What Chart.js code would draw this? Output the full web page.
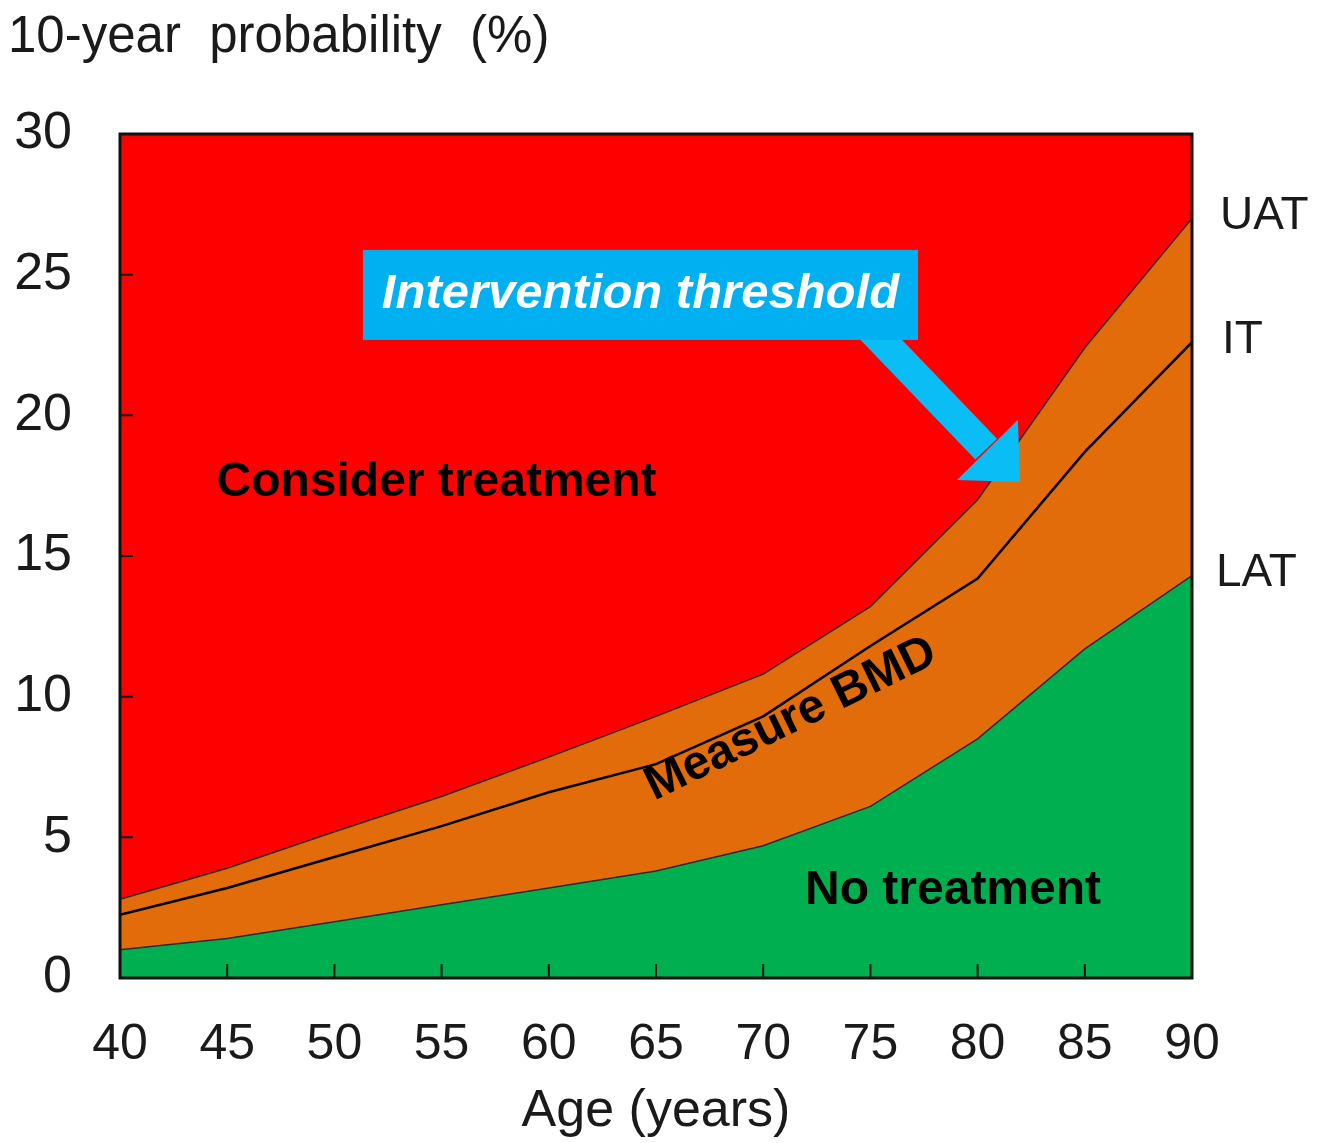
<!DOCTYPE html>
<html>
<head>
<meta charset="utf-8">
<script src="https://cdn.jsdelivr.net/npm/chart.js@4/dist/chart.umd.min.js"></script>
<style>
  html, body { margin: 0; padding: 0; background: #fff; }
  #wrap { width: 1326px; height: 1143px; }
</style>
</head>
<body>
<div id="wrap"><canvas id="thresholdChart" width="1326" height="1143"></canvas></div>
<script>
// Dane (wiek w latach, prawdopodobieństwo w %)
var ages = [40, 45, 50, 55, 60, 65, 70, 75, 80, 85, 90];
var lowerThreshold = [1.0, 1.4, 2.0, 2.6, 3.2, 3.8, 4.7, 6.1, 8.5, 11.7, 14.3];        // LAT
var interventionThreshold = [2.25, 3.2, 4.3, 5.4, 6.6, 7.6, 9.3, 11.8, 14.2, 18.7, 22.6]; // IT
var upperThreshold = [2.8, 3.9, 5.2, 6.45, 7.85, 9.3, 10.8, 13.2, 17.0, 22.4, 27.0];   // UAT
var xTicks = [40, 45, 50, 55, 60, 65, 70, 75, 80, 85, 90];
var yTicks = [0, 5, 10, 15, 20, 25, 30];
var lineNames = ['LAT', 'IT', 'UAT'];

var FONT = '"Liberation Sans", Arial, sans-serif';
var RED = '#ff0000';
var ORANGE = '#e36c0a';
var GREEN = '#00b050';

function toPoints(values) {
  return ages.map(function (a, i) { return { x: a, y: values[i] }; });
}

// Pozycje opisów w jednostkach danych (wiek, %)
var notes = {
  consider: { x: 44.5, y: 17.6, text: 'Consider treatment' },
  none: { x: 71.95, y: 3.1, text: 'No treatment' },
  measure: { x: 71.3, y: 9.2, text: 'Measure BMD', angle: -26 },
  box: { x1: 51.33, x2: 77.22, y1: 25.88, y2: 22.68, text: 'Intervention threshold' },
  arrow: { from: [74.6, 23.4], to: [80.4, 18.8], tip: [81.98, 17.63], barbA: [79.04, 17.70], barbB: [81.88, 19.84] }
};

var decorPlugin = {
  id: 'decor',
  beforeDraw: function (chart) {
    var ctx = chart.ctx, a = chart.chartArea;
    ctx.save();
    ctx.fillStyle = '#fff';
    ctx.fillRect(0, 0, chart.width, chart.height);
    ctx.fillStyle = RED;
    ctx.fillRect(a.left, a.top, a.right - a.left, a.bottom - a.top);
    ctx.restore();
  },
  afterDraw: function (chart) {
    var ctx = chart.ctx, a = chart.chartArea;
    var xs = chart.scales.x, ys = chart.scales.y;
    function px(x) { return xs.getPixelForValue(x); }
    function py(y) { return ys.getPixelForValue(y); }

    ctx.save();
    // ramka wykresu
    ctx.strokeStyle = '#111';
    ctx.lineWidth = 3;
    ctx.strokeRect(a.left, a.top, a.right - a.left, a.bottom - a.top);

    // znaczniki osi skierowane do środka
    ctx.lineWidth = 2;
    ctx.beginPath();
    xTicks.slice(1, -1).forEach(function (t) {
      ctx.moveTo(px(t), a.bottom);
      ctx.lineTo(px(t), a.bottom - 14);
    });
    yTicks.slice(1, -1).forEach(function (t) {
      ctx.moveTo(a.left, py(t));
      ctx.lineTo(a.left + 13, py(t));
    });
    ctx.stroke();

    // tytuł osi Y u góry
    ctx.fillStyle = '#1a1a1a';
    ctx.font = '51px ' + FONT;
    ctx.textAlign = 'left';
    ctx.textBaseline = 'middle';
    ctx.fillText('10-year  probability  (%)', 8, 38);

    // nazwy linii po prawej stronie
    ctx.font = '46px ' + FONT;
    var ends = [lowerThreshold, interventionThreshold, upperThreshold];
    var shifts = [24, 30, 28];
    ends.forEach(function (vals, i) {
      ctx.fillText(lineNames[i], a.right + shifts[i], py(vals[vals.length - 1]) - 2);
    });

    // opisy obszarów
    ctx.font = 'bold 48px ' + FONT;
    ctx.fillStyle = '#000';
    ctx.fillText(notes.consider.text, px(notes.consider.x), py(notes.consider.y));
    ctx.fillText(notes.none.text, px(notes.none.x), py(notes.none.y));

    ctx.save();
    ctx.translate(px(notes.measure.x), py(notes.measure.y));
    ctx.rotate(notes.measure.angle * Math.PI / 180);
    ctx.textAlign = 'center';
    ctx.fillText(notes.measure.text, 0, 0);
    ctx.restore();

    // strzałka
    var ar = notes.arrow;
    var x0 = px(ar.from[0]), y0 = py(ar.from[1]), x1 = px(ar.to[0]), y1 = py(ar.to[1]);
    ctx.strokeStyle = '#0bbdf5';
    ctx.lineWidth = 30;
    ctx.beginPath();
    ctx.moveTo(x0, y0);
    ctx.lineTo(x1, y1);
    ctx.stroke();
    ctx.fillStyle = '#0bbdf5';
    ctx.beginPath();
    ctx.moveTo(px(ar.tip[0]), py(ar.tip[1]));
    ctx.lineTo(px(ar.barbA[0]), py(ar.barbA[1]));
    ctx.lineTo(px(ar.barbB[0]), py(ar.barbB[1]));
    ctx.closePath();
    ctx.fill();

    // niebieska ramka z napisem
    var b = notes.box;
    ctx.fillStyle = '#00b0f0';
    ctx.fillRect(px(b.x1), py(b.y1), px(b.x2) - px(b.x1), py(b.y2) - py(b.y1));
    ctx.fillStyle = '#fff';
    ctx.font = 'italic bold 49px ' + FONT;
    ctx.textAlign = 'center';
    ctx.fillText(b.text, (px(b.x1) + px(b.x2)) / 2, (py(b.y1) + py(b.y2)) / 2);
    ctx.restore();
  }
};

var ctx = document.getElementById('thresholdChart').getContext('2d');
var chart = new Chart(ctx, {
  type: 'line',
  data: {
    datasets: [{
      label: 'LAT',
      data: toPoints(lowerThreshold),
      borderColor: '#2a2a2a',
      borderWidth: 1.5,
      backgroundColor: GREEN,
      fill: 'origin'
    }, {
      label: 'IT',
      data: toPoints(interventionThreshold),
      borderColor: '#000',
      borderWidth: 2.5,
      fill: false
    }, {
      label: 'UAT',
      data: toPoints(upperThreshold),
      borderColor: '#2a2a2a',
      borderWidth: 1.5,
      backgroundColor: ORANGE,
      fill: { target: 0 }
    }]
  },
  options: {
    responsive: false,
    animation: false,
    devicePixelRatio: 1,
    layout: { padding: { top: 134, right: 134, left: 0, bottom: 0 } },
    elements: { point: { radius: 0 }, line: { tension: 0 } },
    plugins: { legend: { display: false }, tooltip: { enabled: false } },
    scales: {
      x: {
        type: 'linear',
        min: 40,
        max: 90,
        afterFit: function (s) { s.height = 165; },
        afterBuildTicks: function (s) { s.ticks = xTicks.map(function (v) { return { value: v }; }); },
        grid: { display: false },
        border: { display: false },
        ticks: { color: '#1a1a1a', padding: 29, font: { family: FONT, size: 50 }, maxRotation: 0 },
        title: { display: true, text: 'Age (years)', color: '#1a1a1a', font: { family: FONT, size: 52 }, padding: { top: 0, bottom: 0 } }
      },
      y: {
        min: 0,
        max: 30,
        afterFit: function (s) { s.width = 120; },
        afterBuildTicks: function (s) { s.ticks = yTicks.map(function (v) { return { value: v }; }); },
        grid: { display: false },
        border: { display: false },
        ticks: { color: '#1a1a1a', padding: 40, font: { family: FONT, size: 52 } }
      }
    }
  },
  plugins: [decorPlugin]
});
</script>
</body>
</html>
